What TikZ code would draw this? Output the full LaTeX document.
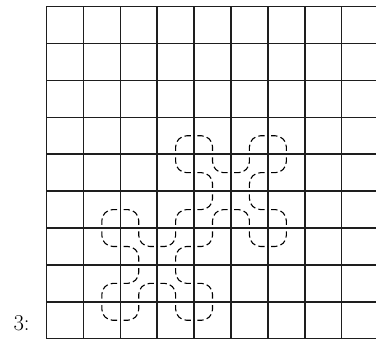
\documentclass[tikz,border=0pt]{standalone}
\usepackage{tikz}
\definecolor{gridline}{HTML}{1E1E1E}

\begin{document}
\begin{tikzpicture}[x=1cm,y=1cm,
    piece/.style={line width=0.85pt,rounded corners=0.3cm,dash pattern=on 4.9pt off 2.5pt,dash phase=4.9pt}]
  \useasboundingbox (-1.26,-0.07) rectangle (8.93,9.18);
  % grid, last column runs off the page
  \foreach \i in {0,...,8}
    \draw[gridline,line width=1.15pt] (\i,0) -- (\i,9);
  \foreach \j in {0,...,9}
    \draw[gridline,line width=1.15pt] (0,\j) -- (8.93,\j);
  % curve, one corner piece per cell: column/row (0 = top)/from angle/to angle
  \foreach \c/\r/\a/\b in {3/3/270/0,4/3/180/270,5/3/270/0,6/3/180/270,
      3/4/90/0,4/4/90/0,4/4/180/270,5/4/90/180,5/4/0/270,6/4/90/180,
      1/5/270/0,2/5/180/270,3/5/270/0,4/5/90/180,4/5/0/270,5/5/90/0,5/5/180/270,6/5/180/270,
      1/6/90/0,2/6/90/0,2/6/180/270,3/6/90/180,3/6/0/270,4/6/90/180,5/6/90/0,6/6/90/180,
      1/7/270/0,2/7/90/180,2/7/0/270,3/7/90/0,3/7/180/270,4/7/180/270,
      1/8/90/0,2/8/90/180,3/8/90/0,4/8/90/180}
    \draw[piece,shift={(\c+0.5,8.5-\r)}] (\a:0.5) -- (0,0) -- (\b:0.5);
  \node[font=\fontsize{17.5}{20}\selectfont,anchor=base east,inner sep=0pt] (lbl) at (-0.45,0.23) {3:};
\end{tikzpicture}
\end{document}
